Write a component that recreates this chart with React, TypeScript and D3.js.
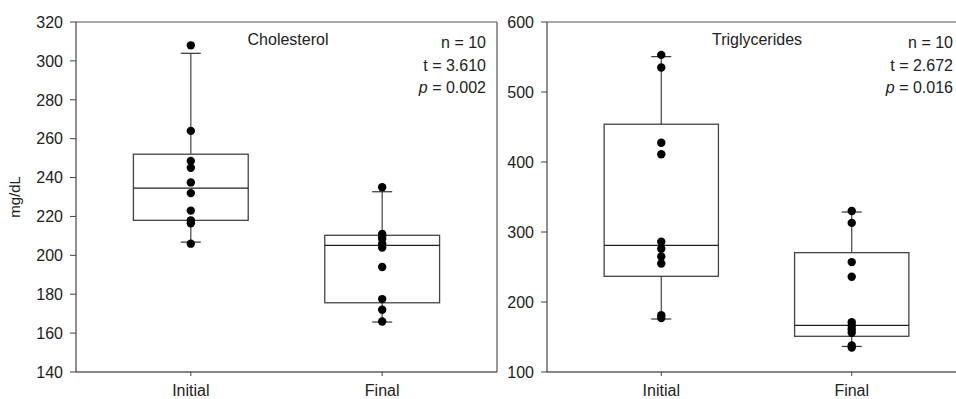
import React from "react";
import * as d3 from "d3";

const categories = ["Initial", "Final"];

// Cholesterol
const cholInitial = [308, 264, 248.5, 245, 237.5, 232, 223, 218, 216.5, 206];
const cholFinal = [235, 211, 210, 208.5, 206, 204, 194, 177.5, 172, 166];
const cholBoxInitial = [206.8, 218, 234.6, 252, 303.9]; // lo, q1, med, q3, hi
const cholBoxFinal = [165.7, 175.6, 205.1, 210.3, 232.7];
const cholTicks = [140, 160, 180, 200, 220, 240, 260, 280, 300, 320];
const cholStats = ["n = 10", "t = 3.610", "0.002"];

// Triglycerides
const trigInitial = [553, 535, 427.5, 411, 286, 276, 265, 255, 181, 177];
const trigFinal = [330, 313, 257, 236, 171, 166, 161, 156, 138, 135];
const trigBoxInitial = [175.7, 236.7, 281, 454, 550.5];
const trigBoxFinal = [136.5, 151, 166.5, 270.5, 328.5];
const trigTicks = [100, 200, 300, 400, 500, 600];
const trigStats = ["n = 10", "t = 2.672", "0.016"];

const FONT = "Arial, 'Liberation Sans', sans-serif";

type PanelProps = {
  x0: number;
  x1: number;
  domain: [number, number];
  ticks: number[];
  title: string;
  titleX: number;
  statsX: number;
  stats: string[];
  points: number[][];
  boxes: number[][];
  ylabel?: string;
  rightBorder: boolean;
};

const TOP = 22;
const BOTTOM = 372;

function Panel(p: PanelProps) {
  const y = d3.scaleLinear().domain(p.domain).range([BOTTOM, TOP]);
  const x = d3.scalePoint<string>().domain(categories).range([p.x0, p.x1]).padding(0.6);
  const step = x.step();
  const bw = step * 0.6;
  const cap = 10;
  return (
    <g>
      {/* frame */}
      <line x1={p.x0} x2={p.x1} y1={TOP} y2={TOP} stroke="#555" strokeWidth={1.2} />
      {p.rightBorder && (
        <line x1={p.x1} x2={p.x1} y1={TOP} y2={BOTTOM} stroke="#555" strokeWidth={1.2} />
      )}
      <line x1={p.x0} x2={p.x0} y1={TOP} y2={BOTTOM} stroke="#444" strokeWidth={1.2} />
      <line x1={p.x0} x2={p.x1} y1={BOTTOM} y2={BOTTOM} stroke="#111" strokeWidth={1.2} />
      {p.ticks.map((t) => (
        <g key={t}>
          <line x1={p.x0 - 6} x2={p.x0} y1={y(t)} y2={y(t)} stroke="#444" strokeWidth={1} />
          <text x={p.x0 - 13} y={y(t)} dy="0.36em" textAnchor="end" fontSize={16} fill="#222" fontFamily={FONT}>
            {t}
          </text>
        </g>
      ))}
      {categories.map((c, i) => {
        const cx = x(c)!;
        const b = p.boxes[i];
        return (
          <g key={c}>
            <line x1={cx} x2={cx} y1={BOTTOM} y2={BOTTOM + 4} stroke="#444" strokeWidth={1} />
            <text x={cx} y={396} textAnchor="middle" fontSize={16} fill="#222" fontFamily={FONT}>
              {c}
            </text>
            {/* whiskers */}
            <line x1={cx} x2={cx} y1={y(b[4])} y2={y(b[3])} stroke="#444" strokeWidth={1.2} />
            <line x1={cx} x2={cx} y1={y(b[1])} y2={y(b[0])} stroke="#444" strokeWidth={1.2} />
            <line x1={cx - cap} x2={cx + cap} y1={y(b[4])} y2={y(b[4])} stroke="#333" strokeWidth={1.2} />
            <line x1={cx - cap} x2={cx + cap} y1={y(b[0])} y2={y(b[0])} stroke="#333" strokeWidth={1.2} />
            <rect x={cx - bw / 2} y={y(b[3])} width={bw} height={y(b[1]) - y(b[3])} fill="none" stroke="#444" strokeWidth={1.3} />
            <line x1={cx - bw / 2} x2={cx + bw / 2} y1={y(b[2])} y2={y(b[2])} stroke="#222" strokeWidth={1.2} />
            {p.points[i].map((v, k) => (
              <circle key={k} cx={cx} cy={y(v)} r={4.2} fill="#000" />
            ))}
          </g>
        );
      })}
      <text x={p.titleX} y={45} textAnchor="middle" fontSize={16} fill="#222" fontFamily={FONT}>
        {p.title}
      </text>
      <text x={p.statsX} y={48} textAnchor="end" fontSize={16} fill="#222" fontFamily={FONT}>
        {p.stats[0]}
      </text>
      <text x={p.statsX} y={70.5} textAnchor="end" fontSize={16} fill="#222" fontFamily={FONT}>
        {p.stats[1]}
      </text>
      <text x={p.statsX} y={93} textAnchor="end" fontSize={16} fill="#222" fontFamily={FONT}>
        <tspan fontStyle="italic">p</tspan>
        <tspan>{" = " + p.stats[2]}</tspan>
      </text>
      {p.ylabel && (
        <text
          transform={`translate(20,${(TOP + BOTTOM) / 2}) rotate(-90)`}
          textAnchor="middle"
          fontSize={15}
          fill="#222"
          fontFamily={FONT}
        >
          {p.ylabel}
        </text>
      )}
    </g>
  );
}

export default function App() {
  return (
    <svg
      width={956}
      height={399}
      style={{ position: "absolute", left: 0, top: 0, background: "#fff" }}
    >
      <rect x={0} y={0} width={956} height={399} fill="#fff" />
      <Panel
        x0={76}
        x1={497}
        domain={[140, 320]}
        ticks={cholTicks}
        title="Cholesterol"
        titleX={288}
        statsX={486}
        stats={cholStats}
        points={[cholInitial, cholFinal]}
        boxes={[cholBoxInitial, cholBoxFinal]}
        ylabel="mg/dL"
        rightBorder={true}
      />
      <Panel
        x0={547}
        x1={966}
        domain={[100, 600]}
        ticks={trigTicks}
        title="Triglycerides"
        titleX={757}
        statsX={953}
        stats={trigStats}
        points={[trigInitial, trigFinal]}
        boxes={[trigBoxInitial, trigBoxFinal]}
        rightBorder={true}
      />
    </svg>
  );
}
